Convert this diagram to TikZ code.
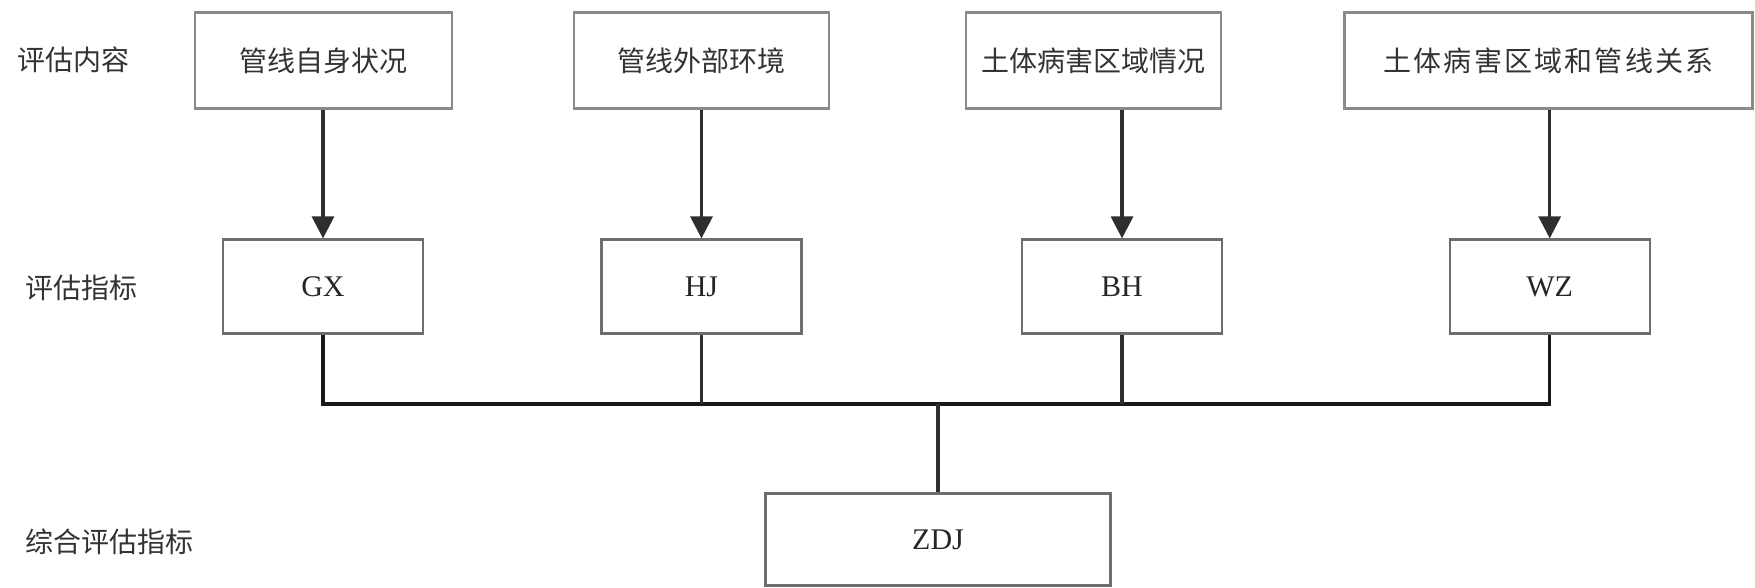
\documentclass[tikz,border=0pt]{standalone}
\usepackage{fontspec}
\setmainfont{Liberation Serif}
\newfontfamily\cjk{Noto Sans CJK SC}
\usetikzlibrary{arrows.meta}
\definecolor{boxgray}{HTML}{8A8A8A}
\definecolor{midgray}{HTML}{6E6E6E}
\definecolor{linedark}{HTML}{2E2E2E}
\definecolor{txt}{HTML}{333333}
\begin{document}
\begin{tikzpicture}[x=1pt,y=-1pt,
  topbox/.style={draw=boxgray,line width=2.2pt,minimum height=96pt,inner sep=0pt,
    font=\cjk\fontsize{28}{30}\selectfont,text=txt},
  midbox/.style={draw=midgray,line width=2.2pt,minimum width=200pt,minimum height=94pt,inner sep=0pt,
    font=\fontsize{30}{32}\selectfont,text=black!85},
  rowlabel/.style={anchor=west,inner sep=0pt,font=\cjk\fontsize{28}{30}\selectfont,text=txt},
  conn/.style={draw=linedark,line width=3.2pt},
  arr/.style={conn,-{Triangle[length=22pt,width=22pt]}},
  bus/.style={draw=black!90,line width=3.2pt}]
\useasboundingbox (0,0) rectangle (1755,587);
% row labels
\node[rowlabel] (l1) at (17,60) {评估内容};
\node[rowlabel] (l2) at (25,288) {评估指标};
\node[rowlabel] (l3) at (25,542) {综合评估指标};
% top boxes
\node[topbox,minimum width=257pt] (t1) at (323.5,60.5) {管线自身状况};
\node[topbox,minimum width=255pt] (t2) at (701.8,60.5) {管线外部环境};
\node[topbox,minimum width=255pt] (t3) at (1093.5,60.5) {土体病害区域情况};
\node[topbox,minimum width=408pt] (t4) at (1548.5,60.5) {\addfontfeatures{LetterSpace=8}土体病害区域和管线关系};
% indicator boxes
\node[midbox] (gx) at (323,286.5) {GX};
\node[midbox] (hj) at (701.5,286.5) {HJ};
\node[midbox] (bh) at (1122,286.5) {BH};
\node[midbox] (wz) at (1549.7,286.5) {WZ};
% overall box
\node[midbox,minimum width=345pt,minimum height=92pt] (zdj) at (938,539.5) {ZDJ};
% arrows
\draw[arr] (t1.south -| gx.north) -- (gx.north);
\draw[arr] (t2.south -| hj.north) -- (hj.north);
\draw[arr] (t3.south -| bh.north) -- (bh.north);
\draw[arr] (t4.south -| wz.north) -- (wz.north);
% bus
\coordinate (busc) at (938,404);
\draw[bus] (gx.south) |- (busc) -| (wz.south);
\draw[conn] (hj.south) -- (hj.south |- busc);
\draw[conn] (bh.south) -- (bh.south |- busc);
\draw[conn] (busc) -- (zdj.north);
\end{tikzpicture}
\end{document}
